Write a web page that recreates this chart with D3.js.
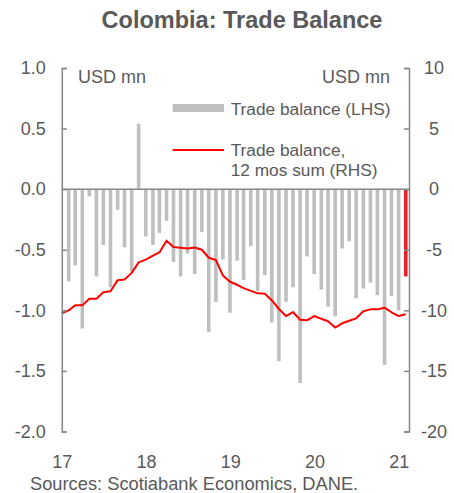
<!DOCTYPE html>
<html>
<head>
<meta charset="utf-8">
<script src="https://cdn.jsdelivr.net/npm/d3@7"></script>
<style>
  html, body { margin: 0; padding: 0; background: #fff; }
  svg { display: block; font-family: "Liberation Sans", Arial, sans-serif; }
</style>
</head>
<body>
<svg id="chart" width="454" height="493"></svg>
<script>
// ---- data ----
const months = [
  "2017-01","2017-02","2017-03","2017-04","2017-05","2017-06","2017-07","2017-08","2017-09","2017-10","2017-11","2017-12",
  "2018-01","2018-02","2018-03","2018-04","2018-05","2018-06","2018-07","2018-08","2018-09","2018-10","2018-11","2018-12",
  "2019-01","2019-02","2019-03","2019-04","2019-05","2019-06","2019-07","2019-08","2019-09","2019-10","2019-11","2019-12",
  "2020-01","2020-02","2020-03","2020-04","2020-05","2020-06","2020-07","2020-08","2020-09","2020-10","2020-11","2020-12",
  "2021-01"
];
const tradeBalance = [
  -0.76, -0.63, -1.15, -0.06, -0.72, -0.46, -0.81, -0.17, -0.48, -0.68, 0.54, -0.39,
  -0.46, -0.36, -0.26, -0.60, -0.72, -0.53, -0.70, -0.355, -1.18, -0.93, -0.58, -1.02,
  -0.59, -0.75, -0.47, -0.84, -0.71, -1.10, -1.42, -0.93, -0.81, -1.60, -0.555, -0.70,
  -0.83, -0.97, -1.05, -0.49, -0.43, -0.90, -0.82, -0.77, -0.875, -1.45, -0.88, -1.00,
  -0.72
];
const highlightMonth = "2021-01";
const sumMonths = ["2016-12"].concat(months);
const tradeSum12 = [
  -10.25,
  -10.0, -9.59, -9.59, -9.04, -9.04, -8.5, -8.42, -7.51, -7.46, -6.91, -6.04, -5.82,
  -5.49, -5.22, -4.25, -4.78, -4.84, -4.89, -4.81, -5.0, -5.66, -5.85, -7.12, -7.64,
  -7.89, -8.17, -8.39, -8.6, -8.63, -9.16, -9.89, -10.47, -10.14, -10.78, -10.82, -10.47,
  -10.7, -10.9, -11.42, -11.07, -10.86, -10.66, -10.08, -9.92, -9.92, -9.78, -10.16, -10.47,
  -10.33
];
const leftTicks = [1.0, 0.5, 0.0, -0.5, -1.0, -1.5, -2.0];
const rightTicks = [10, 5, 0, -5, -10, -15, -20];
const yearTicks = ["2017", "2018", "2019", "2020", "2021"];

// ---- layout ----
const svg = d3.select("#chart");
const axisColor = "#868686";
const textColor = "#595959";
const fontFam = "Liberation Sans, Arial, sans-serif";
const plotL = 61.8, plotR = 409, plotT = 68, plotB = 431.5;

const parseMonth = d3.timeParse("%Y-%m");
const monthEnd = m => d3.timeDay.offset(d3.timeMonth.offset(parseMonth(m), 1), -1);

const x = d3.scaleTime()
  .domain([new Date(2017, 0, 1), new Date(2021, 1, 14)])
  .range([plotL, plotR]);
const yL = d3.scaleLinear().domain([-2, 1]).range([plotB, plotT]);
const yR = d3.scaleLinear().domain([-20, 10]).range([plotB, plotT]);

// title
svg.append("text")
  .attr("x", 242).attr("y", 28)
  .attr("text-anchor", "middle")
  .attr("font-size", 23.5).attr("font-weight", "bold")
  .attr("fill", textColor)
  .text("Colombia: Trade Balance");

// bars
const barW = 3.6;
svg.append("g").selectAll("rect")
  .data(months.map((m, i) => ({ m, v: tradeBalance[i] })))
  .join("rect")
  .attr("x", d => x(monthEnd(d.m)) - barW / 2)
  .attr("width", barW)
  .attr("y", d => yL(Math.max(0, d.v)))
  .attr("height", d => Math.abs(yL(d.v) - yL(0)))
  .attr("fill", d => d.m === highlightMonth ? "#E8202A" : "#BFBFBF");

// zero line
svg.append("line")
  .attr("x1", plotL).attr("x2", plotR)
  .attr("y1", yL(0)).attr("y2", yL(0))
  .attr("stroke", axisColor).attr("stroke-width", 1.5);

// 12m sum line
const line = d3.line()
  .x((d, i) => x(monthEnd(sumMonths[i])))
  .y(d => yR(d));
svg.append("path")
  .datum(tradeSum12)
  .attr("d", line)
  .attr("fill", "none")
  .attr("stroke", "#FF0000")
  .attr("stroke-width", 2)
  .attr("stroke-linejoin", "round");

// left axis
const gL = svg.append("g")
  .attr("transform", `translate(${plotL},0)`)
  .call(d3.axisLeft(yL).tickValues(leftTicks).tickFormat(d => d.toFixed(1))
    .tickSize(-5).tickSizeOuter(-5).tickPadding(16));
// right axis
const gR = svg.append("g")
  .attr("transform", `translate(${plotR},0)`)
  .call(d3.axisRight(yR).tickValues(rightTicks).tickFormat(d => String(d))
    .tickSize(-5).tickSizeOuter(-5).tickPadding(25));
gR.selectAll("text").attr("text-anchor", "middle");

[gL, gR].forEach(g => {
  g.attr("font-size", 18).attr("font-family", fontFam);
  g.selectAll("path, line").attr("stroke", axisColor).attr("stroke-width", 1.5);
  g.selectAll("text").attr("fill", textColor);
});

// bottom labels
const gB = svg.append("g")
  .attr("transform", "translate(0,452)")
  .call(d3.axisBottom(x)
    .tickValues(yearTicks.map(y => new Date(+y, 0, 1)))
    .tickFormat(d3.timeFormat("%y"))
    .tickSize(0).tickPadding(3));
gB.select(".domain").remove();
gB.attr("font-size", 18).attr("font-family", fontFam);
gB.selectAll("text").attr("fill", textColor);

// unit labels
svg.append("text").attr("x", 78).attr("y", 83)
  .attr("font-size", 18).attr("fill", textColor).text("USD mn");
svg.append("text").attr("x", 390).attr("y", 83).attr("text-anchor", "end")
  .attr("font-size", 18).attr("fill", textColor).text("USD mn");

// legend
const lg = svg.append("g");
lg.append("rect").attr("x", 172.7).attr("y", 104).attr("width", 51.3).attr("height", 8)
  .attr("fill", "#BFBFBF");
lg.append("text").attr("x", 230.7).attr("y", 114.5)
  .attr("font-size", 17.3).attr("fill", textColor).text("Trade balance (LHS)");
lg.append("line").attr("x1", 172.7).attr("x2", 224).attr("y1", 150).attr("y2", 150)
  .attr("stroke", "#FF0000").attr("stroke-width", 2);
lg.append("text").attr("x", 230.7).attr("y", 156.3)
  .attr("font-size", 17.3).attr("fill", textColor).text("Trade balance,");
lg.append("text").attr("x", 230.7).attr("y", 176.3)
  .attr("font-size", 17.3).attr("fill", textColor).text("12 mos sum (RHS)");

// source
svg.append("text").attr("x", 30).attr("y", 490)
  .attr("font-size", 18.3).attr("fill", textColor)
  .text("Sources: Scotiabank Economics, DANE.");
</script>
</body>
</html>
